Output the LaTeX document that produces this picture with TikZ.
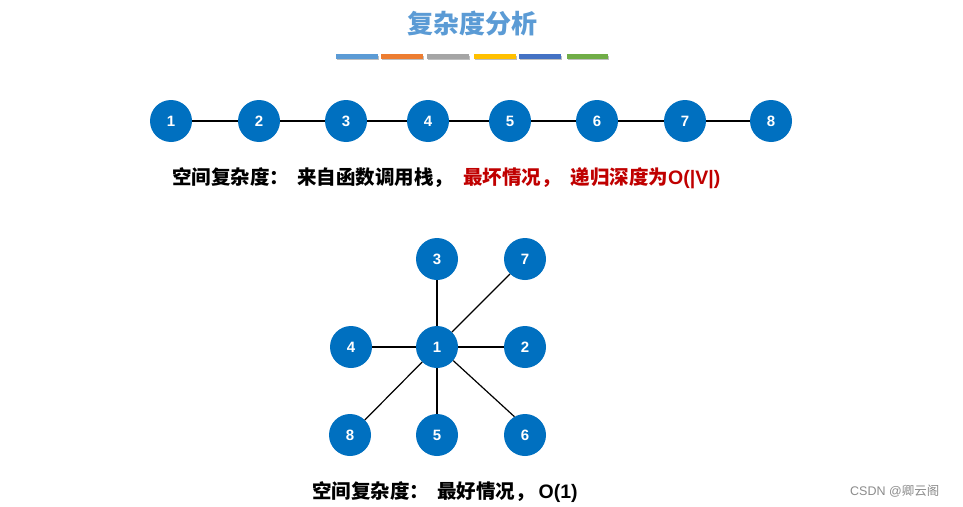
\documentclass[tikz,border=0pt]{standalone}
\usepackage{fontspec}
\setmainfont{Liberation Sans}
\newfontfamily\cjk{Noto Sans CJK SC}
\definecolor{nodeblue}{HTML}{0070C0}
\definecolor{titleblue}{HTML}{5B9BD5}
\definecolor{darkred}{HTML}{C00000}
\definecolor{barA}{HTML}{5B9BD5}
\definecolor{barB}{HTML}{ED7D31}
\definecolor{barC}{HTML}{A5A5A5}
\definecolor{barD}{HTML}{FFC000}
\definecolor{barE}{HTML}{4472C4}
\definecolor{barF}{HTML}{70AD47}
\tikzset{
  vtx/.style={circle, fill=nodeblue, minimum size=42pt, inner sep=0pt, text=white, font=\bfseries\fontsize{15}{15}\selectfont},
  edge/.style={draw=black, line width=1.2pt},
  lbl/.style={anchor=west, inner sep=0pt, font=\bfseries\fontsize{19.5}{19.5}\selectfont}
}
\begin{document}
\begin{tikzpicture}[x=1pt,y=-1pt]
\useasboundingbox (0,0) rectangle (963,506);
\fill[white] (0,0) rectangle (963,506);
% title
\node[inner sep=0pt, text=titleblue, font=\cjk\bfseries\fontsize{26}{26}\selectfont] (title) at (472,24) {复杂度分析};
% bars
\foreach \a/\b/\c in {336/378/barA, 381/423/barB, 427/469/barC, 474/516/barD, 519/561/barE, 567/608/barF}{
  \fill[black!25] (\a+1,55.5) rectangle (\b+1,60);
  \fill[\c] (\a,54) rectangle (\b,58.5);
}
% chain
\foreach \i/\x in {1/171, 2/259, 3/346, 4/428, 5/510, 6/597, 7/685, 8/771}{
  \node[vtx] (c\i) at (\x,121) {\i};
}
\foreach \i/\j in {1/2, 2/3, 3/4, 4/5, 5/6, 6/7, 7/8}{
  \draw[edge] (c\i) -- (c\j);
}
\node[lbl] (t1) at (172,178) {{\cjk 空间复杂度：\hspace{8pt}来自函数调用栈，\hspace{10pt}}\textcolor{darkred}{{\cjk 最坏情况，\hspace{10pt}递归深度为}O(|V|)}};
% star
\node[vtx] (s1) at (437,347) {1};
\node[vtx] (s3) at (437,259) {3};
\node[vtx] (s7) at (525,259) {7};
\node[vtx] (s4) at (351,347) {4};
\node[vtx] (s2) at (525,347) {2};
\node[vtx] (s8) at (350,435) {8};
\node[vtx] (s5) at (437,435) {5};
\node[vtx] (s6) at (525,435) {6};
\foreach \j in {3,7,4,2,8,5}{
  \draw[edge] (s1) -- (s\j);
}
\draw[edge] (s1.-40) -- (s6.120);
\node[lbl] (t2) at (312,492) {{\cjk 空间复杂度：\hspace{8pt}最好情况，\hspace{4pt}}O(1)};
% watermark
\node[anchor=west, inner sep=0pt, text=black!45, font=\fontsize{12.5}{12.5}\selectfont] (wm) at (850,491) {CSDN @{\cjk 卿云阁}};
\end{tikzpicture}
\end{document}
